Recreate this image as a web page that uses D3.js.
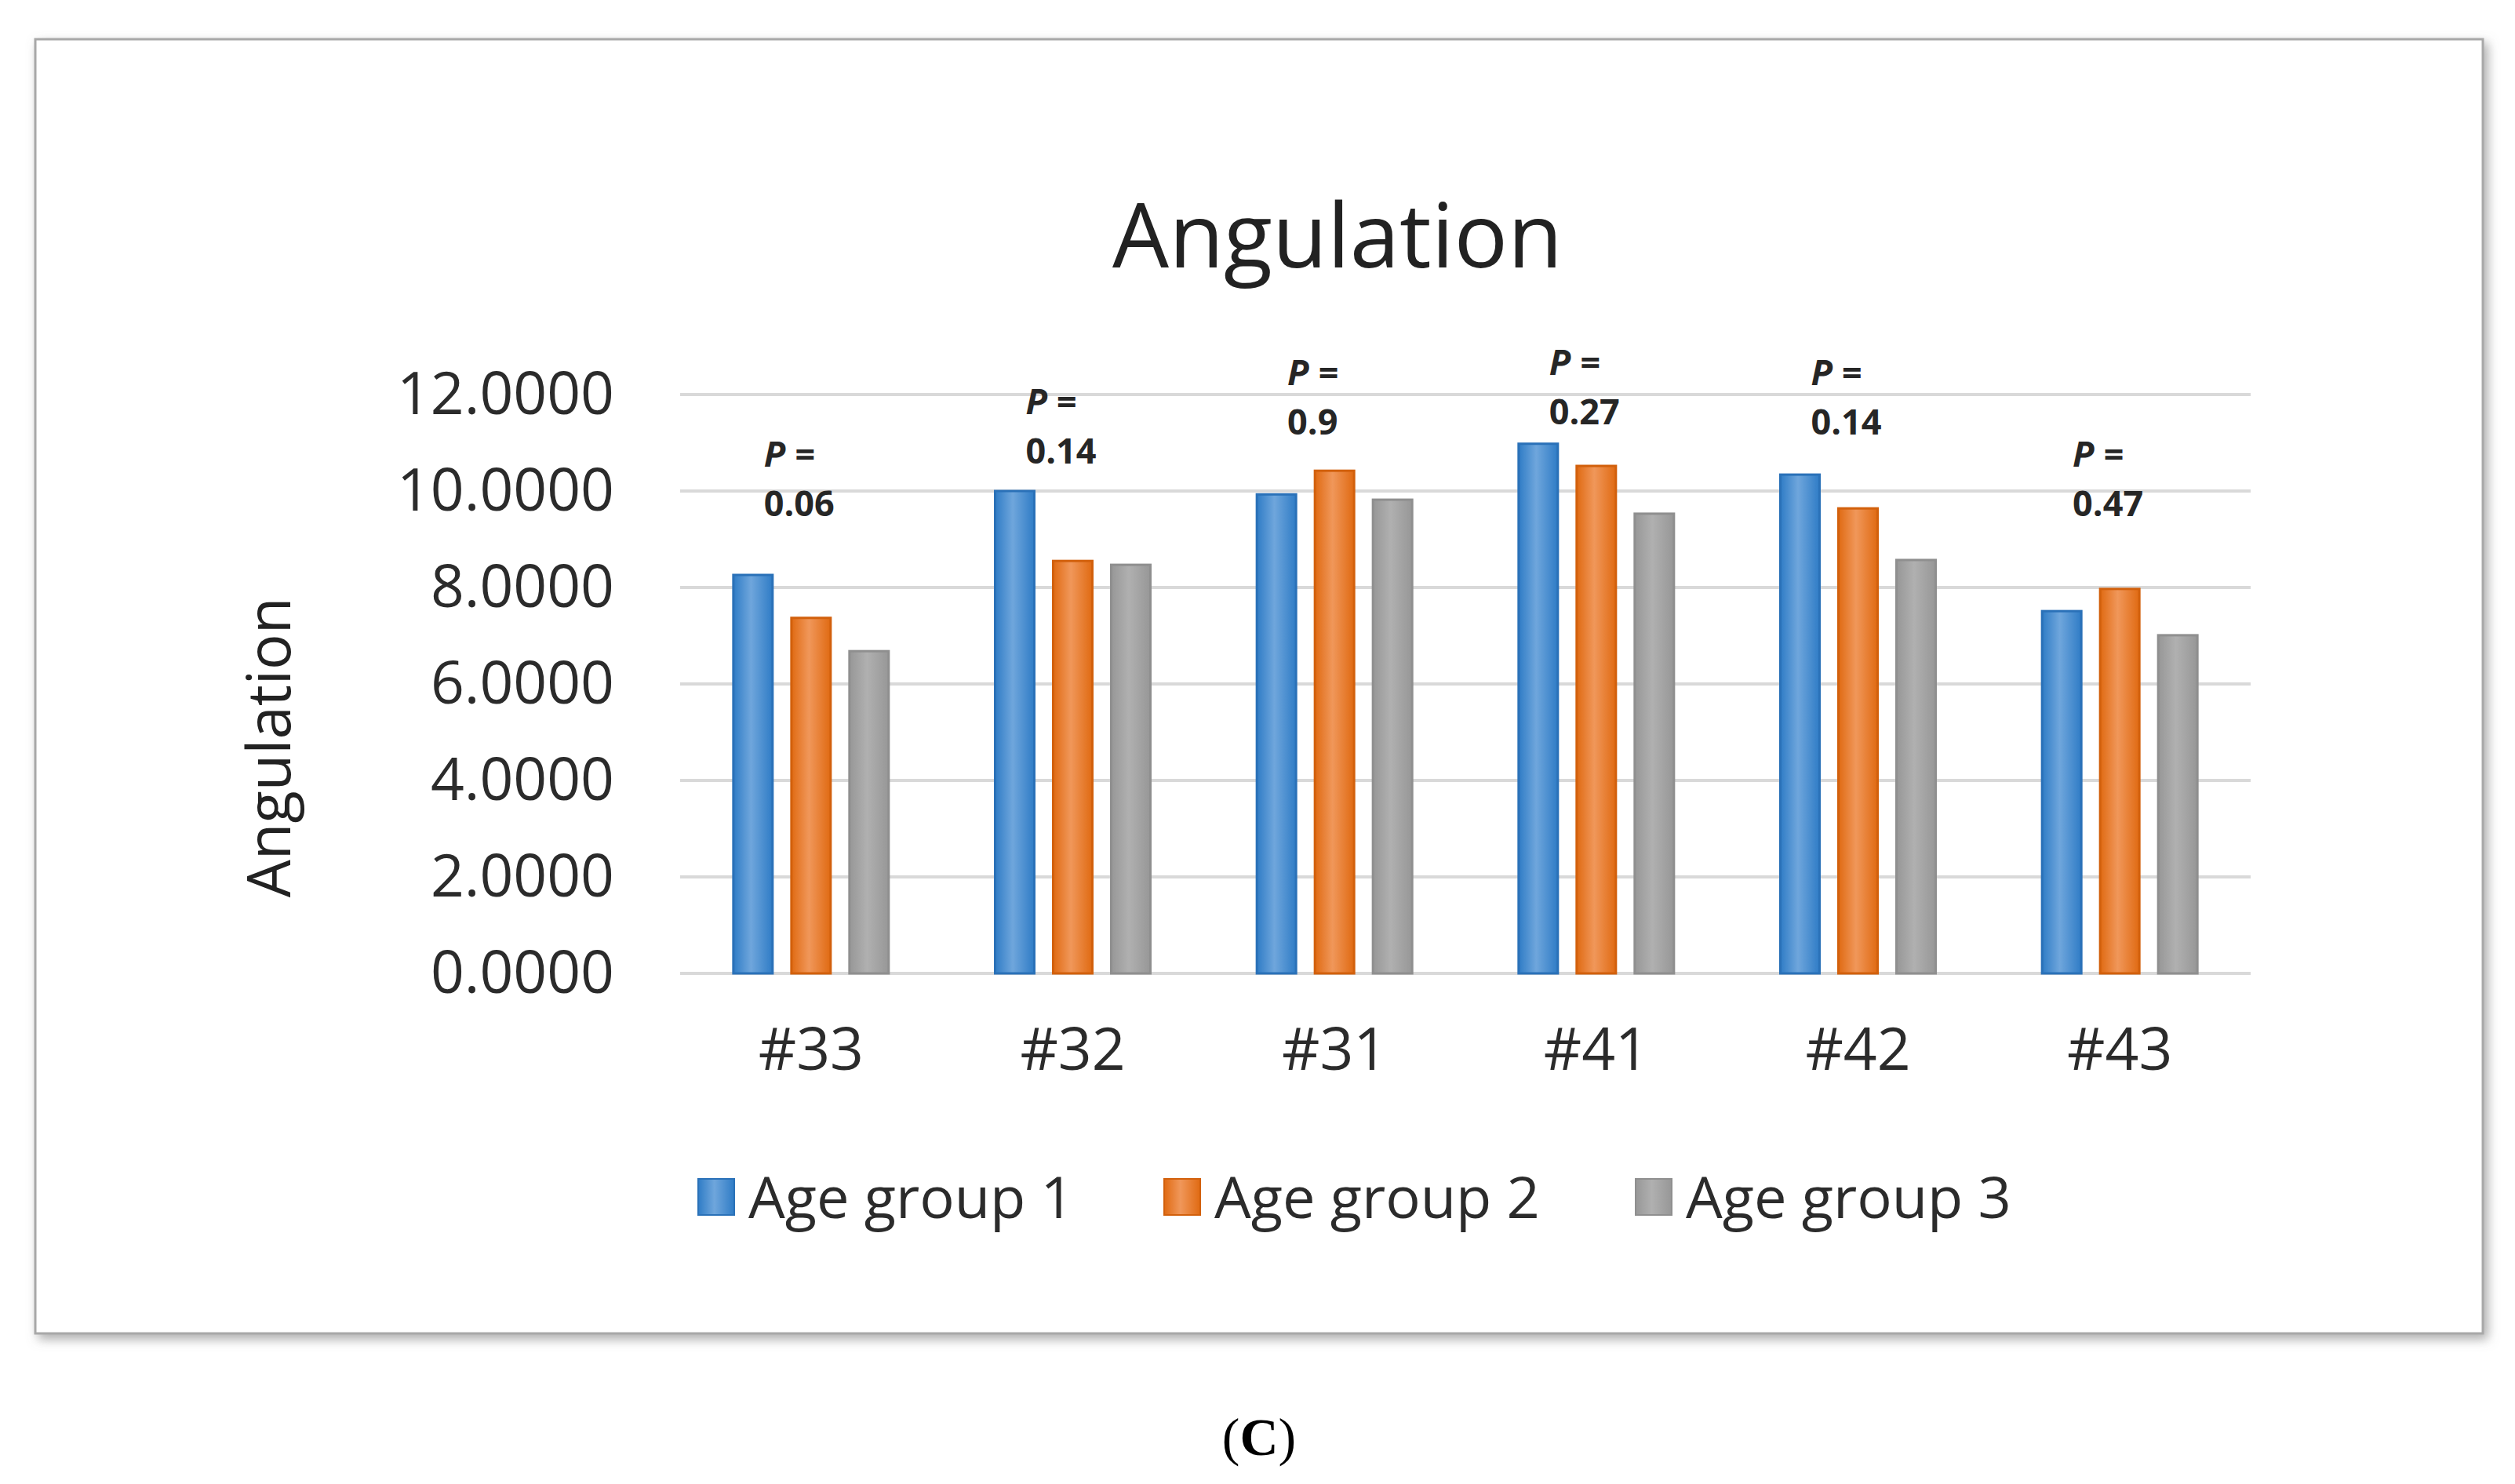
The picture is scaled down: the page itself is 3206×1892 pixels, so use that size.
<!DOCTYPE html>
<html>
<head>
<meta charset="utf-8">
<script src="https://cdn.jsdelivr.net/npm/d3@7"></script>
<style>
  body { margin: 0; background: #fff; }
</style>
</head>
<body>
<div id="chart"></div>
<script>
// data
var categories = ["#33", "#32", "#31", "#41", "#42", "#43"];
var groups = ["Age group 1", "Age group 2", "Age group 3"];
var group1 = [8.26, 10.0, 9.93, 10.98, 10.34, 7.51];
var group2 = [7.37, 8.55, 10.42, 10.52, 9.64, 7.97];
var group3 = [6.68, 8.47, 9.82, 9.53, 8.57, 7.01];
var pValues = ["0.06", "0.14", "0.9", "0.27", "0.14", "0.47"];
// level (in axis units) where each "P =" line sits
var pLabelAt = [10.5, 11.6, 12.2, 12.4, 12.2, 10.5];
var yTicks = [0, 2, 4, 6, 8, 10, 12];

var series = [group1, group2, group3];
var colors = {
  "Age group 1": { mid: "#6fa6dc", edge: "#2f7cc6", stroke: "#2a71b8" },
  "Age group 2": { mid: "#f0975a", edge: "#e06a12", stroke: "#d2600c" },
  "Age group 3": { mid: "#b0b0b0", edge: "#979797", stroke: "#8f8f8f" }
};

var svgWidth = 3206;
var svgHeight = 1892;
var font = "'Open Sans', 'Noto Sans', sans-serif";

var svg = d3.select("#chart")
  .append("svg")
  .attr("width", svgWidth)
  .attr("height", svgHeight)
  .style("display", "block");

var defs = svg.append("defs");

var shadow = defs.append("filter")
  .attr("id", "frameShadow")
  .attr("x", "-5%").attr("y", "-5%")
  .attr("width", "110%").attr("height", "110%");
shadow.append("feDropShadow")
  .attr("dx", 5).attr("dy", 6)
  .attr("stdDeviation", 7)
  .attr("flood-color", "#777")
  .attr("flood-opacity", 0.6);

// Excel-like horizontal gradient on bars
groups.forEach(function(g, i) {
  var grad = defs.append("linearGradient")
    .attr("id", "grad" + i)
    .attr("x1", "0%").attr("x2", "100%")
    .attr("y1", "0%").attr("y2", "0%");
  grad.append("stop").attr("offset", "0%").attr("stop-color", colors[g].edge);
  grad.append("stop").attr("offset", "45%").attr("stop-color", colors[g].mid);
  grad.append("stop").attr("offset", "100%").attr("stop-color", colors[g].edge);
});

// chart frame with shadow
svg.append("rect")
  .attr("x", 45)
  .attr("y", 50)
  .attr("width", 3120)
  .attr("height", 1650)
  .attr("fill", "#fff")
  .attr("stroke", "#a8a8a8")
  .attr("stroke-width", 3)
  .attr("filter", "url(#frameShadow)");

// scales
var x = d3.scaleBand()
  .domain(categories)
  .range([867, 2869]);

var groupSpan = 198;
var xInner = d3.scaleBand()
  .domain(groups)
  .range([(x.bandwidth() - groupSpan) / 2, (x.bandwidth() + groupSpan) / 2])
  .paddingInner(24 / 74);

var y = d3.scaleLinear()
  .domain([0, 12])
  .range([1241, 503]);

// gridlines
svg.append("g")
  .selectAll("line")
  .data(yTicks)
  .join("line")
  .attr("x1", x.range()[0])
  .attr("x2", x.range()[1])
  .attr("y1", d => y(d))
  .attr("y2", d => y(d))
  .attr("stroke", "#d9d9d9")
  .attr("stroke-width", 4);

// y axis labels
var yAxis = svg.append("g")
  .attr("transform", `translate(${x.range()[0]},0)`)
  .call(d3.axisLeft(y).tickValues(yTicks).tickFormat(d3.format(".4f")).tickSize(0).tickPadding(84));
yAxis.select(".domain").remove();
yAxis.selectAll("text")
  .attr("font-family", font)
  .attr("font-size", "75px")
  .attr("fill", "#2b2b2b");

// x axis labels
var xAxis = svg.append("g")
  .attr("transform", `translate(0,${y(0)})`)
  .call(d3.axisBottom(x).tickSize(0).tickPadding(70));
xAxis.select(".domain").remove();
xAxis.selectAll("text")
  .attr("font-family", font)
  .attr("font-size", "75px")
  .attr("fill", "#2b2b2b");

// bars
var rows = categories.map((c, i) => ({ cat: c, values: groups.map((g, j) => ({ key: g, idx: j, value: series[j][i] })) }));

svg.append("g")
  .selectAll("g")
  .data(rows)
  .join("g")
  .attr("transform", d => `translate(${x(d.cat)},0)`)
  .selectAll("rect")
  .data(d => d.values)
  .join("rect")
  .attr("x", d => xInner(d.key))
  .attr("y", d => y(d.value))
  .attr("width", xInner.bandwidth())
  .attr("height", d => y(0) - y(d.value))
  .attr("fill", d => `url(#grad${d.idx})`)
  .attr("stroke", d => colors[d.key].stroke)
  .attr("stroke-width", 3);

// p-value annotations, two lines each
var pX = d => x(d) + x.bandwidth() * 0.32;
var pText = svg.append("g")
  .selectAll("g")
  .data(categories)
  .join("g")
  .attr("font-family", font)
  .attr("font-size", "45px")
  .attr("font-weight", "bold")
  .attr("fill", "#262626");
pText.append("text")
  .attr("x", pX)
  .attr("y", (d, i) => y(pLabelAt[i]))
  .attr("font-style", "italic")
  .text("P =");
pText.append("text")
  .attr("x", pX)
  .attr("y", (d, i) => y(pLabelAt[i]) + 63)
  .text((d, i) => pValues[i]);

// chart title
svg.append("text")
  .attr("x", 1705)
  .attr("y", 341)
  .attr("text-anchor", "middle")
  .attr("font-family", font)
  .attr("font-size", "114px")
  .attr("fill", "#222")
  .text("Angulation");

// y axis title
svg.append("text")
  .attr("transform", "translate(370,953) rotate(-90)")
  .attr("text-anchor", "middle")
  .attr("font-family", font)
  .attr("font-size", "76px")
  .attr("fill", "#222")
  .text("Angulation");

// legend
var legendX = [890, 1484, 2085];
var legend = svg.append("g")
  .selectAll("g")
  .data(groups)
  .join("g")
  .attr("transform", (d, i) => `translate(${legendX[i]},1526)`);
legend.append("rect")
  .attr("x", 0)
  .attr("y", -23)
  .attr("width", 46)
  .attr("height", 46)
  .attr("fill", (d, i) => `url(#grad${i})`)
  .attr("stroke", d => colors[d].stroke)
  .attr("stroke-width", 2);
legend.append("text")
  .attr("x", 64)
  .attr("y", 0)
  .attr("dy", "0.36em")
  .attr("font-family", font)
  .attr("font-size", "74px")
  .attr("fill", "#2b2b2b")
  .text(d => d);

// panel caption
var caption = svg.append("text")
  .attr("x", 1605)
  .attr("y", 1855)
  .attr("text-anchor", "middle")
  .attr("font-family", "'Liberation Serif', 'DejaVu Serif', serif")
  .attr("font-size", "68px")
  .attr("fill", "#000");
caption.append("tspan").text("(");
caption.append("tspan").attr("font-weight", "bold").text("C");
caption.append("tspan").text(")");
</script>
</body>
</html>
